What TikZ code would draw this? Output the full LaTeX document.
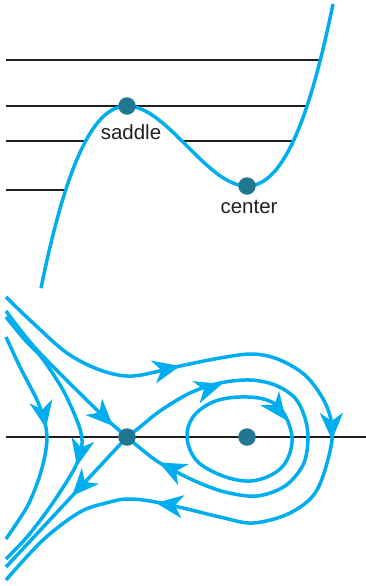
\documentclass[tikz,border=0pt]{standalone}
\usepackage{fontspec}
\setmainfont{Liberation Sans}
\usetikzlibrary{arrows.meta}
\definecolor{flowblue}{RGB}{0,174,239}
\definecolor{dotteal}{RGB}{31,119,146}
\definecolor{labelgray}{RGB}{35,31,32}
\begin{document}
\begin{tikzpicture}[x=1pt,y=-1pt,
  flow/.style={draw=flowblue,line width=3.5pt,line join=round},
  level/.style={draw=black!88,line width=2.2pt},
  tipstyle/.style={draw=flowblue,fill=flowblue,line width=3.5pt,-{Stealth[length=27pt,width=23pt,inset=8pt]}},
  dot/.style={circle,fill=dotteal,inner sep=0pt,minimum size=17.5pt},
  lbl/.style={text=labelgray,font=\fontsize{20.5}{24}\selectfont,inner sep=0pt,anchor=base}]
\newcommand\flowtip[2]{\draw[tipstyle] #1 -- #2;}
\useasboundingbox (0,0) rectangle (366,586);

% ---------- potential (top) ----------
\draw[level] (6,60) -- (320.3,60);
\draw[level] (6,106) -- (307,106);
\draw[level] (6,141) -- (85.7,141);
\draw[level] (182,141) -- (293.3,141);
\draw[level] (6,190) -- (65.7,190);
\draw[flow] plot[variable=\t,domain=-0.86:2.06,samples=120,smooth]
  ({127+100*\t},{106-92.6*\t*\t*\t+166.7*\t*\t});
\node[dot] (saddleV) at (127,106) {};
\node[dot] (centerV) at (247,186) {};
\node[lbl] (saddleL) at (131,139) {saddle};
\node[lbl] (centerL) at (249,213) {center};

% ---------- phase portrait (bottom) ----------
\draw[level] (6,437) -- (366,437);

% outer trajectory
\draw[flow] plot[smooth,tension=0.55] coordinates {
  (6,297) (33,323) (67,353) (100,370) (133,376) (180,366) (220,358) (253,354)
  (280,360) (307,377) (327,407) (332,440) (317,490) (290,513) (253,523)
  (220,517) (183,508) (150,501) (127,499) (110,502) (80,512) (43,540) (6,580)};
% homoclinic loop
\draw[flow] plot[smooth,tension=0.55] coordinates {
  (127,437) (140,427) (160,411) (190,393) (220,383) (250,380) (275,385)
  (295,398) (305,418) (308,440) (303,465) (285,486) (257,496) (225,492)
  (195,481) (160,463) (140,448) (127,437)};
% inner closed orbit
\draw[flow] plot[smooth cycle,tension=0.6] coordinates {
  (187,438) (193,417) (213,402) (240,397) (267,400) (283,412) (292,437)
  (287,460) (273,474) (250,481) (223,476) (197,461)};
% stable manifold from upper left
\draw[flow] plot[smooth] coordinates {(6,311) (37,350) (100,413) (127,437)};
% unstable manifold to lower left
\draw[flow] (127,437) -- (6,567);
% open trajectory C
\draw[flow] plot[smooth] coordinates {
  (6,317) (25,340) (42,358) (63,390) (78,423) (82,440) (80,455) (72,473)
  (50,507) (27,537) (6,559)};
% open trajectory D
\draw[flow] plot[smooth] coordinates {
  (6,337) (20,367) (37,400) (45,423) (47,440) (44,460) (38,481) (27,507) (6,539)};

% arrow heads
\flowtip{(169,368.5)}{(180,366)}
\flowtip{(331.8,430)}{(332,440)}
\flowtip{(167,504.5)}{(156,503)}
\flowtip{(211,387.5)}{(222,384)}
\flowtip{(169,467.5)}{(159,462.5)}
\flowtip{(280,412)}{(286,420)}
\flowtip{(105,418)}{(113,426)}
\flowtip{(79,457)}{(77,466)}
\flowtip{(44.5,420)}{(46,428)}
\flowtip{(79.8,487.5)}{(72,496)}

\node[dot] (saddleP) at (127,437) {};
\node[dot] (centerP) at (247,437) {};
\end{tikzpicture}
\end{document}
